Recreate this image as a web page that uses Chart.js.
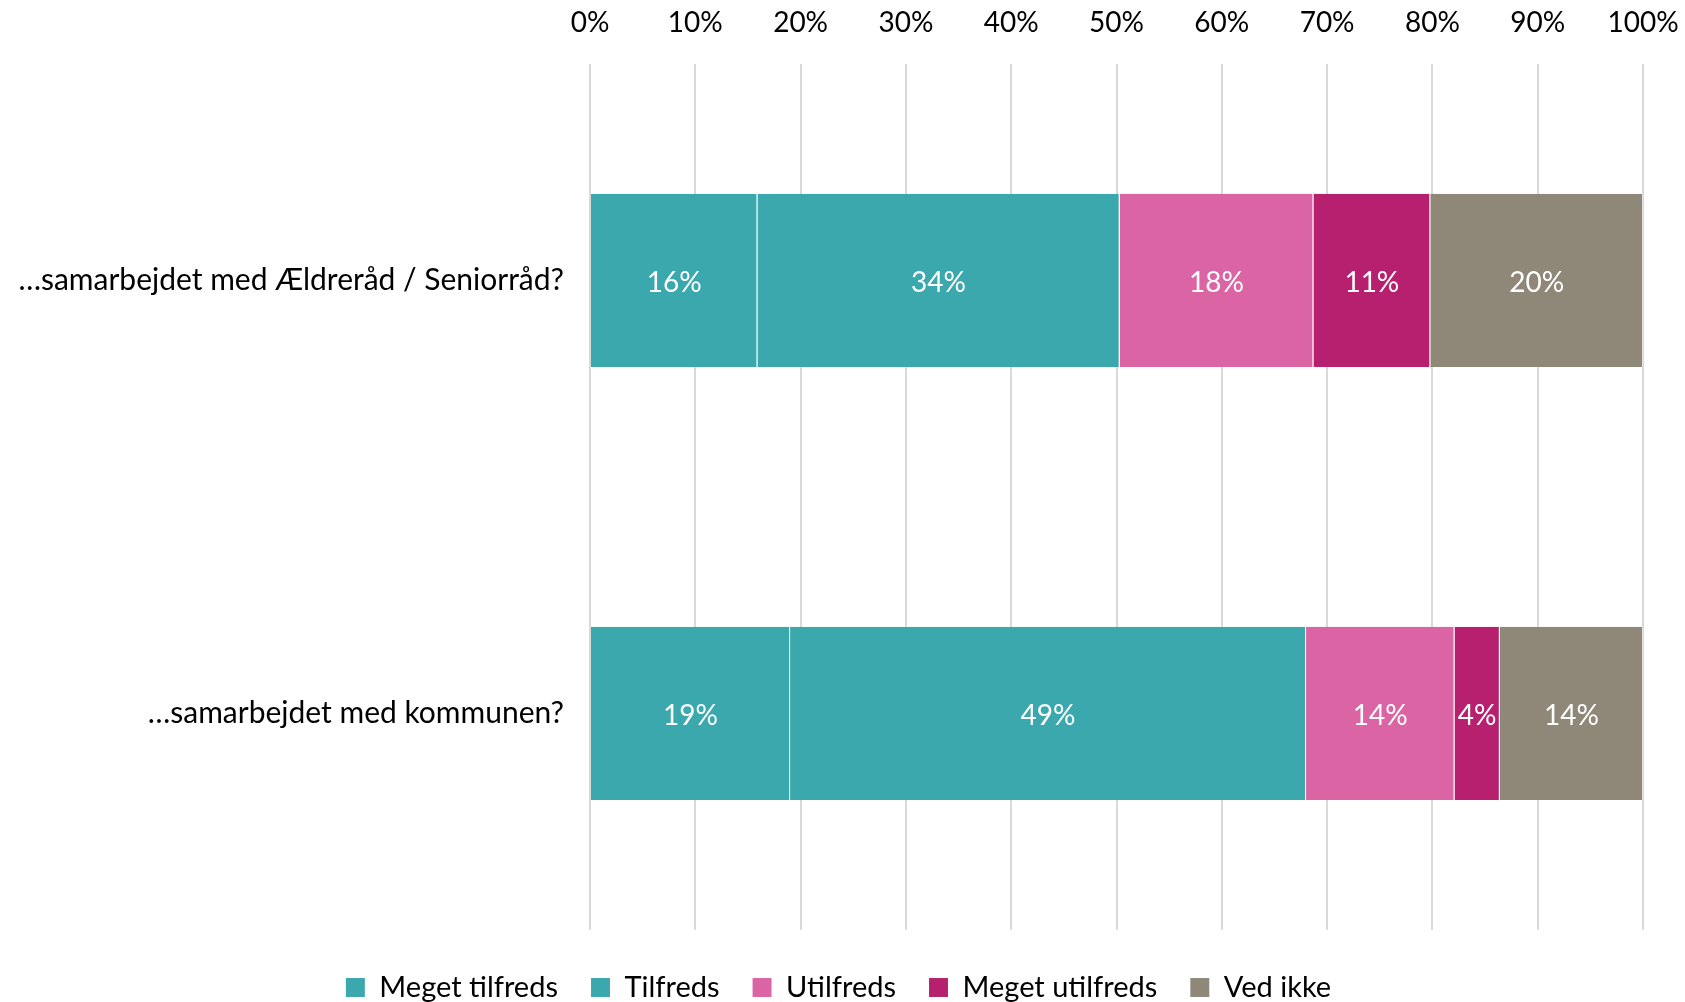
<!DOCTYPE html>
<html>
<head>
<meta charset="utf-8">
<script src="https://cdn.jsdelivr.net/npm/chart.js@4"></script>
<style>
  html, body { margin: 0; padding: 0; background: #fff; }
  #wrap { width: 1685px; height: 1002px; }
</style>
</head>
<body>
<div id="wrap"><canvas id="chart"></canvas></div>
<script>
const categories = ['…samarbejdet med Ældreråd / Seniorråd?', '…samarbejdet med kommunen?'];
const seriesNames = ['Meget tilfreds', 'Tilfreds', 'Utilfreds', 'Meget utilfreds', 'Ved ikke'];
const seriesColors = ['#3AA8AD', '#3AA8AD', '#DB64A5', '#B7206E', '#8F8878'];
const megetTilfreds = [15.9, 19.0];
const tilfreds = [34.4, 49.0];
const utilfreds = [18.4, 14.1];
const megetUtilfreds = [11.1, 4.3];
const vedIkke = [20.2, 13.6];
const xTicks = [0, 10, 20, 30, 40, 50, 60, 70, 80, 90, 100];

const FONT = 'Lato, "Open Sans", sans-serif';
const FS = 28;

// white percentage labels in the middle of each segment
const segmentLabels = {
    id: 'segmentLabels',
    afterDatasetsDraw(chart) {
        const ctx = chart.ctx;
        ctx.save();
        ctx.font = FS + 'px ' + FONT;
        ctx.fillStyle = '#ffffff';
        ctx.textAlign = 'center';
        ctx.textBaseline = 'middle';
        chart.data.datasets.forEach((ds, i) => {
            chart.getDatasetMeta(i).data.forEach((bar, j) => {
                const c = bar.getCenterPoint();
                ctx.fillText(Math.round(ds.data[j]) + '%', c.x, c.y + 3);
            });
        });
        ctx.restore();
    }
};

// nudge the legend a little to the right, like the original
const legendShift = {
    id: 'legendShift',
    beforeDraw(chart) {
        const lg = chart.legend;
        if (lg && !lg._shifted) {
            lg.left += 17;
            lg.right += 17;
            lg._shifted = true;
        }
    }
};

const allSeries = [megetTilfreds, tilfreds, utilfreds, megetUtilfreds, vedIkke];

const ctx = document.getElementById('chart').getContext('2d');
const chart = new Chart(ctx, {
    type: 'bar',
    data: {
        labels: categories,
        datasets: allSeries.map((vals, i) => ({
            label: seriesNames[i],
            data: vals,
            backgroundColor: seriesColors[i],
            borderColor: 'rgba(255,255,255,0.25)',
            borderWidth: { left: 0, right: 1, top: 0, bottom: 0 },
            borderSkipped: false,
            barPercentage: 0.8,
            categoryPercentage: 0.5
        }))
    },
    options: {
        indexAxis: 'y',
        responsive: true,
        maintainAspectRatio: false,
        animation: false,
        layout: { padding: { left: 0, right: 42, top: 0, bottom: -10 } },
        plugins: {
            legend: {
                position: 'bottom',
                title: {
                    display: true,
                    text: ' ',
                    font: { size: 1 },
                    padding: { top: 0, bottom: 9 }
                },
                labels: {
                    font: { family: FONT, size: 29 },
                    color: '#000',
                    boxWidth: 19,
                    boxHeight: 19,
                    padding: 33
                }
            },
            tooltip: { enabled: false }
        },
        scales: {
            x: {
                position: 'top',
                stacked: true,
                min: 0,
                max: 100,
                afterBuildTicks: (scale) => { scale.ticks = xTicks.map(v => ({ value: v })); },
                afterFit: (scale) => { scale.height = 64; },
                ticks: {
                    font: { family: FONT, size: FS },
                    color: '#000',
                    padding: 0,
                    callback: (v) => v + '%'
                },
                grid: { color: '#D9D9D9', lineWidth: 2, drawTicks: true, tickLength: 24, tickColor: 'rgba(0,0,0,0)' },
                border: { display: false }
            },
            y: {
                stacked: true,
                afterFit: (scale) => { scale.width = 590; },
                ticks: {
                    font: { family: FONT, size: 30 },
                    color: '#000',
                    padding: 26
                },
                grid: { display: false, drawTicks: false },
                border: { display: false }
            }
        }
    },
    plugins: [segmentLabels, legendShift]
});
</script>
</body>
</html>
